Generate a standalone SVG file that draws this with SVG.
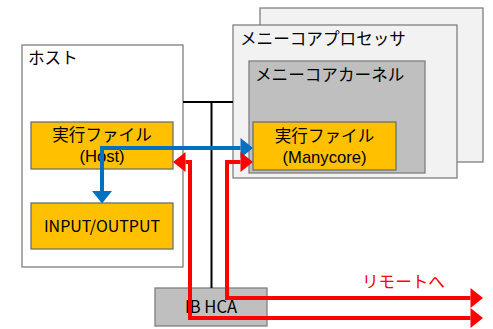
<svg xmlns="http://www.w3.org/2000/svg" width="493" height="329" viewBox="0 0 493 329">
<style>
text{font-family:"Noto Sans CJK JP","Noto Sans",sans-serif;font-size:16.6px;fill:#000}
.lat{font-family:"Liberation Sans","Noto Sans",sans-serif}
.box{stroke:#7f7f7f;stroke-width:1.3}
.exe{fill:#ffc000;stroke:#6f6f6f;stroke-width:1.3}
.c{text-anchor:middle}
</style>
<defs>
<marker id="ab" markerUnits="userSpaceOnUse" markerWidth="13" markerHeight="21" refX="0" refY="10" orient="auto-start-reverse" viewBox="0 0 13 20" overflow="visible"><path d="M0,0 L12.5,10 L0,20 z" fill="#0070c0"/></marker>
<marker id="ar" markerUnits="userSpaceOnUse" markerWidth="13" markerHeight="21" refX="0" refY="10" orient="auto-start-reverse" viewBox="0 0 13 20" overflow="visible"><path d="M0,0 L12.5,10 L0,20 z" fill="#ff0000"/></marker>
</defs>
<g id="manycore-back"><rect class="box" x="260" y="8" width="223" height="154" fill="#f2f2f2"/></g>
<g id="manycore-processor"><rect class="box" x="233" y="25" width="224" height="153" fill="#f2f2f2"/><text x="240" y="45">メニーコアプロセッサ</text></g>
<g id="manycore-kernel"><rect class="box" x="249" y="61" width="176" height="112" fill="#bfbfbf"/><text x="255" y="81">メニーコアカーネル</text></g>
<g id="exe-manycore"><rect class="exe" x="253" y="122" width="143" height="48"/><text class="c" x="324.5" y="142">実行ファイル</text><text class="c lat" x="324.5" y="162.5">(Manycore)</text></g>
<g id="host"><rect class="box" x="22" y="45" width="161" height="222" fill="#fff"/><text x="28" y="64">ホスト</text></g>
<g id="exe-host"><rect class="exe" x="31" y="122" width="142" height="47"/><text class="c" x="102" y="141">実行ファイル</text><text class="c lat" x="102" y="162">(Host)</text></g>
<g id="io"><rect class="exe" x="31" y="203" width="142" height="46"/><text class="c" x="102" y="232" style="font-size:16px">INPUT/OUTPUT</text></g>
<g id="ib-hca"><rect class="box" x="155" y="288" width="112" height="38" fill="#bfbfbf"/><text class="c" x="211" y="313">IB HCA</text></g>
<g id="connectors" fill="none">
<path d="M183,102 H233 M211.5,102 V288" stroke="#000" stroke-width="2"/>
<path d="M102,191 V148 H240.5" stroke="#0070c0" stroke-width="4" marker-start="url(#ab)" marker-end="url(#ab)"/>
<path d="M185.5,162 H190 V318 H470.5" stroke="#ff0000" stroke-width="4" marker-start="url(#ar)" marker-end="url(#ar)"/>
<path d="M240.5,162 H227 V298 H470.5" stroke="#ff0000" stroke-width="4" marker-start="url(#ar)" marker-end="url(#ar)"/>
<text x="362" y="288" style="fill:#ff0000">リモートへ</text>
</g>
</svg>
